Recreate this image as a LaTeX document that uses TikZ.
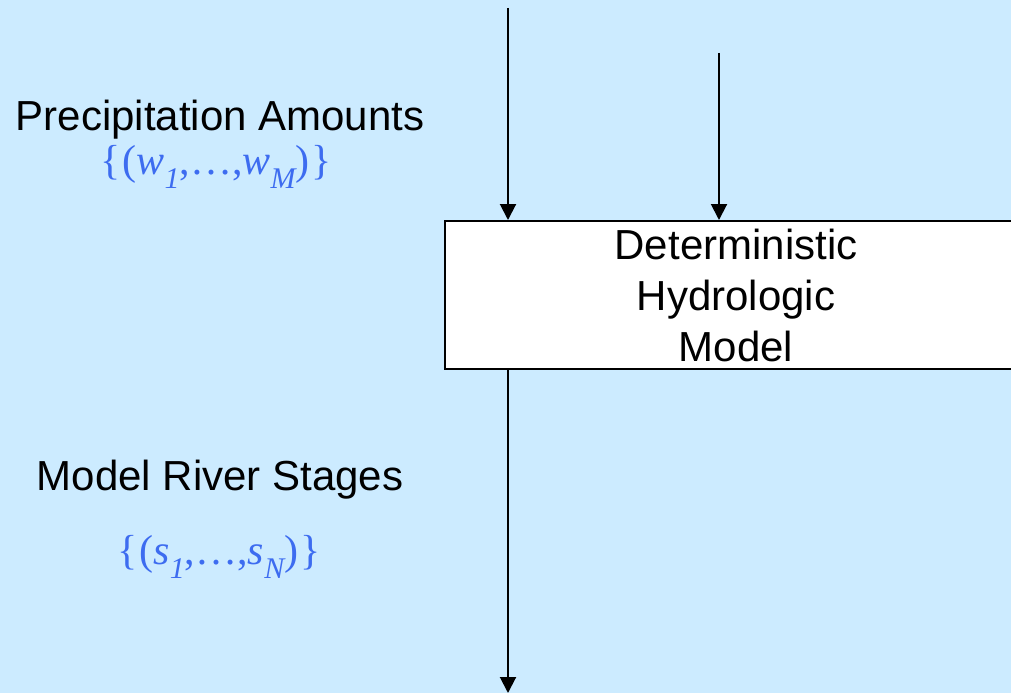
\documentclass[tikz,border=0pt]{standalone}
\usepackage{fontspec}
\setmainfont{Liberation Sans}
\newfontfamily\mathserif{Liberation Serif}
\usetikzlibrary{arrows.meta}
\definecolor{bgblue}{HTML}{CCEBFF}
\definecolor{setblue}{HTML}{3D6CF0}
\newcommand{\lowsub}[1]{\raisebox{-0.34em}{\fontsize{30}{30}\selectfont\itshape #1}}
\tikzset{
  x=1pt, y=-1pt,
  label text/.style={font=\fontsize{42}{48}\selectfont, inner sep=0pt, anchor=center},
  set text/.style={font=\fontsize{42}{46}\selectfont\mathserif, text=setblue, inner sep=0pt, anchor=center},
  flow/.style={line width=2pt, -{Triangle[width=16pt,length=16pt]}}
}
\begin{document}
\begin{tikzpicture}
  \useasboundingbox (0,0) rectangle (1011,693);
  \fill[bgblue] (0,0) rectangle (1011,693);
  \begin{scope}
    \clip (0,0) rectangle (1011,693);
    \node[draw, line width=2pt, fill=white, minimum width=582pt, minimum height=148pt,
          inner sep=0pt, anchor=north west,
          font=\fontsize{42}{51}\selectfont, align=center] (model) at (444,220)
      {Deterministic\\Hydrologic\\Model};
  \end{scope}
  \coordinate (inA) at (508,8);
  \coordinate (inB) at (719,53);
  \coordinate (out) at (508,693);
  \draw[flow] (inA) -- (inA |- model.north);
  \draw[flow] (inB) -- (inB |- model.north);
  \draw[flow] (inA |- model.south) -- (out);
  \node[label text] (precip) at (220,120) {Precipitation Amounts};
  \node[set text] (wset) at (216,167) {\{\kern0.05em(\textit{w}\lowsub{1},…,\textit{w}\lowsub{M})\kern0.05em\}};
  \node[label text] (stages) at (220,480) {Model River Stages};
  \node[set text] (sset) at (219,557) {\{\kern0.05em(\textit{s}\lowsub{1},…,\textit{s}\lowsub{N})\kern0.05em\}};
\end{tikzpicture}
\end{document}
